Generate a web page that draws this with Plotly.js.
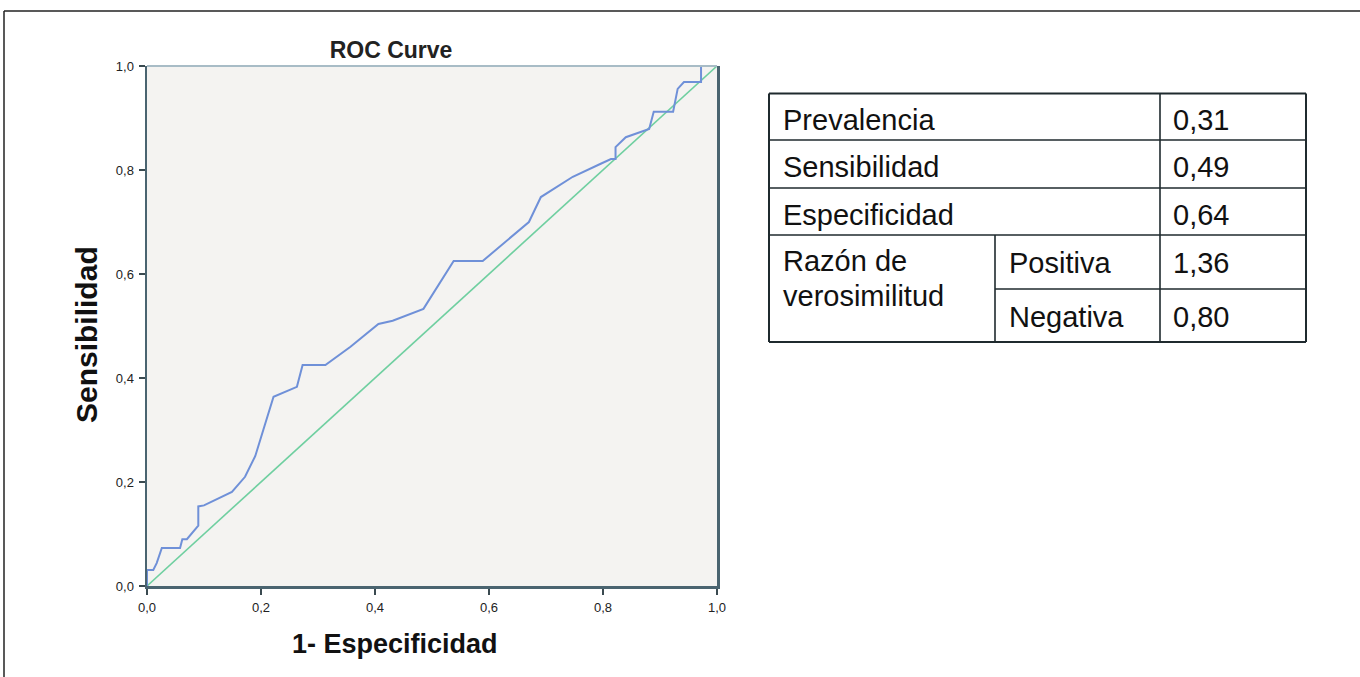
<!DOCTYPE html>
<html>
<head>
<meta charset="utf-8">
<script src="https://cdn.plot.ly/plotly-3.0.1.min.js"></script>
<style>
html,body{margin:0;padding:0;background:#ffffff;}
#chart{width:1360px;height:677px;}
</style>
</head>
<body>
<div id="chart"></div>
<script>
// ROC curve points (1 - Especificidad, Sensibilidad)
var fpr = [0, 0, 0.011, 0.017, 0.026, 0.058, 0.062, 0.070, 0.090, 0.090, 0.100, 0.149, 0.172, 0.190, 0.204, 0.222, 0.263, 0.273, 0.313, 0.357, 0.406, 0.431, 0.485, 0.538, 0.589, 0.624, 0.670, 0.691, 0.747, 0.796, 0.814, 0.822, 0.822, 0.840, 0.881, 0.889, 0.923, 0.931, 0.942, 0.972, 0.972, 1];
var tpr = [0, 0.031, 0.031, 0.044, 0.073, 0.073, 0.090, 0.090, 0.116, 0.153, 0.155, 0.181, 0.210, 0.250, 0.300, 0.364, 0.383, 0.425, 0.425, 0.460, 0.504, 0.510, 0.533, 0.625, 0.625, 0.658, 0.700, 0.748, 0.787, 0.812, 0.821, 0.821, 0.844, 0.863, 0.879, 0.912, 0.912, 0.956, 0.969, 0.969, 1.0, 1];
// Reference (chance) line
var refX = [0, 1];
var refY = [0, 1];
// Axis ticks
var tickVals = [0, 0.2, 0.4, 0.6, 0.8, 1.0];
// Table contents
var tableLabels = ["Prevalencia", "Sensibilidad", "Especificidad"];
var tableValues = ["0,31", "0,49", "0,64"];
var lrLabel = ["Razón de", "verosimilitud"];
var lrKinds = ["Positiva", "Negativa"];
var lrValues = ["1,36", "0,80"];

// Layout geometry (pixels)
var W = 1360, H = 677;
var PL = 147, PR = 717, PT = 66, PB = 586;
function px(x){ return (x - PL) / (PR - PL); }
function py(y){ return (PB - y) / (PB - PT); }

var traces = [
  {x: refX, y: refY, mode: 'lines', line: {color: '#6fcfa0', width: 1.6}, hoverinfo: 'skip', showlegend: false},
  {x: fpr, y: tpr, mode: 'lines', line: {color: '#6f90d8', width: 2}, showlegend: false}
];

var shapes = [];
var annotations = [];
function hline(x0, x1, y, color, w){ shapes.push({type:'line', xref:'paper', yref:'paper', x0:px(x0), x1:px(x1), y0:py(y), y1:py(y), line:{color:color, width:w}}); }
function vline(x, y0, y1, color, w){ shapes.push({type:'line', xref:'paper', yref:'paper', x0:px(x), x1:px(x), y0:py(y0), y1:py(y1), line:{color:color, width:w}}); }

// outer frame
hline(4, 1365, 11, '#222222', 1.5);
vline(4, 11, 690, '#222222', 1.5);

// plot frame (top lighter)
hline(PL, PR, PT, '#a8bcc6', 2);

// table
var TL = 769, TR = 1306, TT = 93.5, TB = 342;
var rowsY = [93.5, 140, 188, 235, 289, 342];
var tc = '#1f2a2e';
hline(TL, TR, TT, tc, 2);
hline(TL, TR, 140, tc, 1.6);
hline(TL, TR, 188, tc, 1.6);
hline(TL, TR, 235, tc, 1.6);
hline(995, TR, 289, tc, 1.6);
hline(TL, TR, TB, tc, 2);
vline(TL, TT, TB, tc, 2);
vline(TR, TT, TB, tc, 2);
vline(1160, TT, TB, tc, 1.6);
vline(995, 235, TB, tc, 1.6);

var tfont = {family: 'Liberation Sans, Arial, sans-serif', size: 29, color: '#111111'};
function txt(s, x, y, font, extra){
  var a = {text: s, xref:'paper', yref:'paper', x: px(x), y: py(y), xanchor:'left', yanchor:'middle', showarrow:false, font: font};
  if (extra) for (var k in extra) a[k] = extra[k];
  annotations.push(a);
}
for (var i = 0; i < tableLabels.length; i++) {
  var cy = (rowsY[i] + rowsY[i+1]) / 2 + 3;
  txt(tableLabels[i], 781, cy, tfont);
  txt(tableValues[i], 1171, cy, tfont);
}
txt(lrLabel[0], 781, 261, tfont);
txt(lrLabel[1], 781, 296, tfont);
for (var j = 0; j < lrKinds.length; j++) {
  var cy2 = (rowsY[3+j] + rowsY[4+j]) / 2 + 1;
  txt(lrKinds[j], 1007, cy2, tfont);
  txt(lrValues[j], 1171, cy2, tfont);
}

// axis titles
var xtfont = {family: 'Liberation Sans, Arial, sans-serif', size: 27, color: '#111111'};
var ytfont = {family: 'Liberation Sans, Arial, sans-serif', size: 30, color: '#111111'};
annotations.push({text: '<b>1- Especificidad</b>', xref:'paper', yref:'paper', x: px(395), y: py(644), xanchor:'center', yanchor:'middle', showarrow:false, font: xtfont});
annotations.push({text: '<b>Sensibilidad</b>', xref:'paper', yref:'paper', x: px(87), y: py(335), xanchor:'center', yanchor:'middle', showarrow:false, textangle: -90, font: ytfont});

var axisCommon = {
  range: [0, 1], tickvals: tickVals, tickformat: '.1f', ticks: 'outside', ticklen: 6, tickwidth: 2,
  tickcolor: '#3a4a50', showline: true, linecolor: '#4a6470', linewidth: 2.5, mirror: false,
  showgrid: false, zeroline: false, fixedrange: true, ticklabelstandoff: 2,
  tickfont: {family: 'Liberation Sans, Arial, sans-serif', size: 13, color: '#222222'}
};
var xaxis = Object.assign({}, axisCommon, {mirror: false});
var yaxis = Object.assign({}, axisCommon, {mirror: true});

var layout = {
  width: W, height: H,
  margin: {l: PL, r: W - PR, t: PT, b: H - PB, autoexpand: false},
  paper_bgcolor: '#ffffff', plot_bgcolor: '#f4f3f1',
  separators: ',.',
  title: {text: '<b>ROC Curve</b>', x: 391 / W, xanchor: 'center', xref: 'container', y: 1 - 50 / H, yanchor: 'middle', yref: 'container',
          font: {family: 'Liberation Sans, Arial, sans-serif', size: 23, color: '#222222'}},
  xaxis: xaxis, yaxis: yaxis,
  shapes: shapes, annotations: annotations,
  showlegend: false
};

Plotly.newPlot('chart', traces, layout, {displayModeBar: false, staticPlot: true});
</script>
</body>
</html>
